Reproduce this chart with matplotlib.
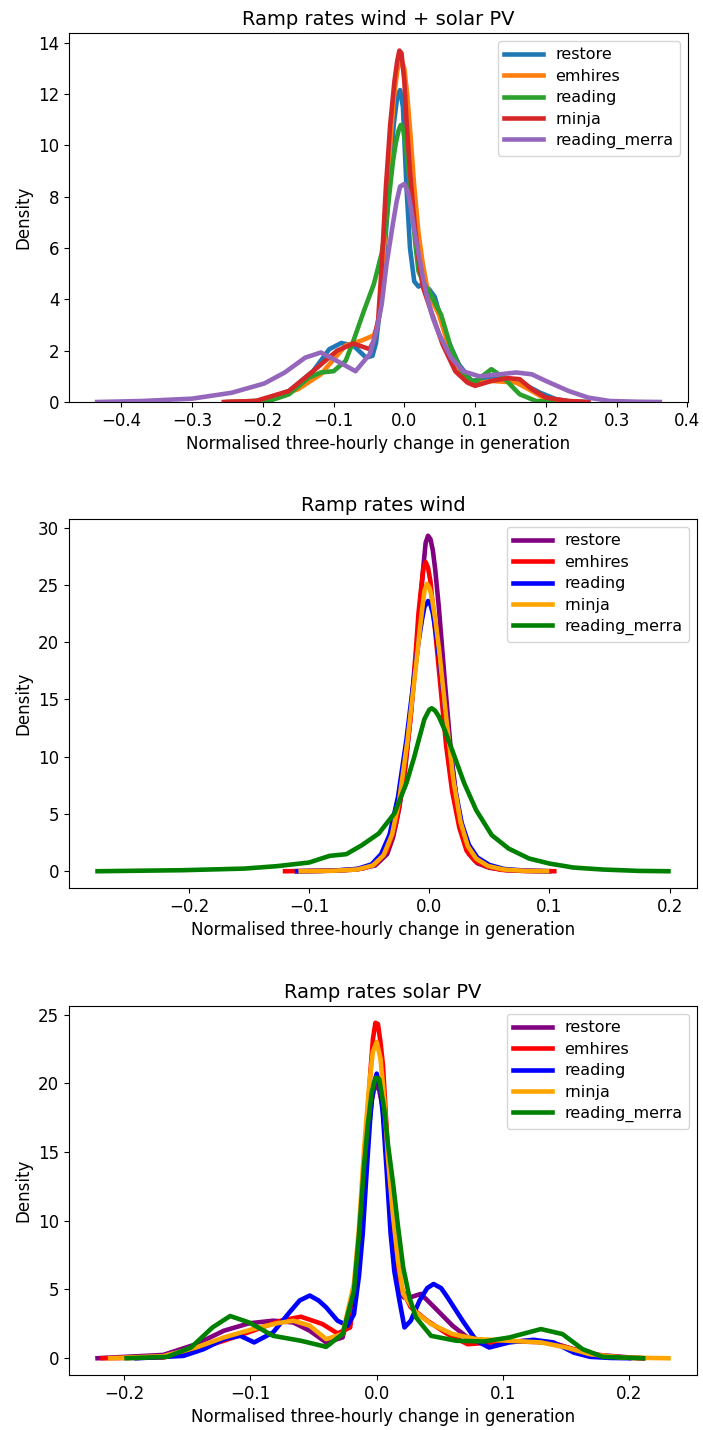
import matplotlib
matplotlib.use("Agg")
import matplotlib.pyplot as plt

# ---- panel 1: wind + solar PV ----
names = ["restore", "emhires", "reading", "rninja", "reading_merra"]

p1_restore_x = [-0.25, -0.2, -0.163, -0.129, -0.106, -0.089, -0.072, -0.054, -0.045, -0.04, -0.035, -0.03, -0.025,
                -0.02, -0.015, -0.01, -0.006, -0.002, 0.003, 0.008, 0.014, 0.02, 0.026, 0.035, 0.043, 0.05,
                0.06, 0.077, 0.095, 0.112, 0.146, 0.169, 0.192, 0.215, 0.238, 0.26]
p1_restore_y = [0.0, 0.05, 0.43, 1.2, 2.06, 2.3, 2.2, 1.73, 1.8, 2.3, 3.5, 5.0, 7.0,
                9.0, 10.8, 11.9, 12.16, 11.5, 8.4, 6.0, 4.7, 4.5, 4.6, 4.4, 4.1, 3.4,
                2.5, 1.47, 0.82, 0.89, 0.89, 0.69, 0.36, 0.1, 0.01, 0.0]

p1_emhires_x = [-0.25, -0.2, -0.15, -0.118, -0.083, -0.06, -0.043, -0.038, -0.034, -0.03, -0.025, -0.02, -0.015,
                -0.01, -0.005, 0.0, 0.004, 0.009, 0.014, 0.02, 0.026, 0.032, 0.04, 0.049, 0.06, 0.068,
                0.077, 0.095, 0.123, 0.158, 0.18, 0.2, 0.226, 0.25]
p1_emhires_y = [0.0, 0.05, 0.5, 1.08, 2.2, 2.4, 2.6, 3.0, 3.6, 5.5, 7.5, 10.0, 11.8,
                12.9, 13.4, 13.0, 12.0, 10.3, 8.4, 6.6, 5.4, 4.5, 3.9, 3.4, 2.4, 1.6,
                1.08, 0.69, 0.82, 0.76, 0.43, 0.1, 0.02, 0.0]

p1_reading_x = [-0.22, -0.19, -0.163, -0.135, -0.118, -0.1, -0.083, -0.072, -0.057, -0.043, -0.032, -0.026,
                -0.02, -0.016, -0.012, -0.008, -0.005, -0.002, 0.002, 0.006, 0.01, 0.015, 0.02, 0.028,
                0.037, 0.052, 0.066, 0.083, 0.1, 0.112, 0.123, 0.14, 0.163, 0.186, 0.21]
p1_reading_y = [0.0, 0.05, 0.3, 0.95, 1.15, 1.2, 1.6, 2.38, 3.56, 4.6, 5.8, 6.9,
                8.4, 9.4, 10.1, 10.6, 10.8, 10.7, 10.0, 9.0, 7.8, 6.3, 5.1, 4.6,
                4.2, 3.4, 2.1, 1.08, 0.76, 1.05, 1.28, 0.95, 0.3, 0.04, 0.0]

p1_rninja_x = [-0.255, -0.21, -0.163, -0.129, -0.095, -0.072, -0.049, -0.043, -0.037, -0.032, -0.026, -0.02,
               -0.014, -0.01, -0.007, -0.004, 0.0, 0.003, 0.008, 0.014, 0.02, 0.026, 0.037, 0.054, 0.072,
               0.089, 0.1, 0.123, 0.146, 0.163, 0.18, 0.2, 0.232, 0.26]
p1_rninja_y = [0.0, 0.04, 0.43, 1.2, 2.0, 2.28, 2.06, 2.4, 3.2, 5.3, 8.4, 10.8,
               12.5, 13.3, 13.7, 13.6, 12.5, 11.0, 9.0, 7.1, 5.6, 4.5, 3.6, 2.25, 1.2,
               0.76, 0.63, 0.82, 0.93, 0.89, 0.5, 0.17, 0.04, 0.0]

p1_merra_x = [-0.434, -0.37, -0.3, -0.244, -0.198, -0.169, -0.14, -0.118, -0.095, -0.069, -0.049, -0.04,
              -0.032, -0.025, -0.017, -0.011, -0.006, 0.0, 0.005, 0.009, 0.014, 0.02, 0.026, 0.032, 0.04,
              0.049, 0.066, 0.083, 0.106, 0.135, 0.158, 0.18, 0.2, 0.232, 0.26, 0.29, 0.33, 0.361]
p1_merra_y = [0.0, 0.04, 0.13, 0.36, 0.72, 1.15, 1.73, 1.93, 1.6, 1.2, 1.86, 2.7,
              3.8, 5.4, 6.8, 7.8, 8.4, 8.5, 8.2, 7.6, 6.7, 5.8, 4.9, 4.1, 3.3,
              2.65, 1.73, 1.2, 1.0, 1.08, 1.15, 1.08, 0.82, 0.43, 0.17, 0.04, 0.01, 0.0]

# ---- panel 2: wind ----
p2_restore_x = [-0.11, -0.08, -0.06, -0.045, -0.035, -0.03, -0.025, -0.02, -0.015, -0.01, -0.007, -0.005,
                -0.003, -0.001, 0.001, 0.003, 0.005, 0.008, 0.013, 0.018, 0.023, 0.028, 0.033, 0.04,
                0.05, 0.065, 0.08, 0.1]
p2_restore_y = [0.0, 0.05, 0.15, 0.5, 1.5, 3.0, 5.5, 9.0, 14.0, 20.0, 24.0, 26.5,
                28.7, 29.3, 29.0, 28.0, 26.3, 23.0, 16.5, 10.5, 6.0, 3.0, 1.5, 0.7,
                0.3, 0.08, 0.02, 0.0]

p2_emhires_x = [-0.12, -0.09, -0.07, -0.055, -0.045, -0.035, -0.028, -0.022, -0.016, -0.011, -0.009, -0.007,
                -0.005, -0.003, -0.001, 0.001, 0.004, 0.009, 0.014, 0.019, 0.025, 0.031, 0.038, 0.048,
                0.06, 0.08, 0.104]
p2_emhires_y = [0.0, 0.03, 0.1, 0.25, 0.6, 1.8, 4.0, 7.5, 13.0, 19.5, 22.5, 24.5,
                26.4, 27.0, 26.5, 25.3, 22.0, 16.5, 11.0, 7.0, 3.8, 1.8, 0.9, 0.4,
                0.12, 0.03, 0.0]

p2_reading_x = [-0.11, -0.08, -0.06, -0.048, -0.04, -0.033, -0.026, -0.019, -0.012, -0.009, -0.006, -0.004,
                -0.001, 0.001, 0.003, 0.006, 0.009, 0.015, 0.021, 0.027, 0.033, 0.04, 0.05, 0.062,
                0.08, 0.098]
p2_reading_y = [0.0, 0.05, 0.2, 0.6, 1.5, 3.2, 6.5, 11.5, 17.5, 20.0, 22.0, 23.1,
                23.6, 23.3, 22.5, 20.5, 18.0, 12.5, 7.5, 4.2, 2.3, 1.2, 0.55, 0.2,
                0.05, 0.0]

p2_rninja_x = [-0.107, -0.08, -0.06, -0.047, -0.038, -0.031, -0.025, -0.018, -0.011, -0.008, -0.006, -0.004,
               -0.002, 0.0, 0.002, 0.005, 0.008, 0.014, 0.02, 0.026, 0.032, 0.039, 0.049, 0.062,
               0.08, 0.098]
p2_rninja_y = [0.0, 0.04, 0.15, 0.5, 1.4, 3.2, 6.2, 11.5, 18.0, 21.0, 22.8, 24.5,
               25.1, 24.8, 24.0, 22.0, 19.5, 13.5, 8.0, 4.3, 2.2, 1.1, 0.45, 0.15,
               0.03, 0.0]

p2_merra_x = [-0.276, -0.205, -0.154, -0.127, -0.1, -0.083, -0.069, -0.056, -0.042, -0.029, -0.019, -0.013,
              -0.008, -0.004, 0.0, 0.002, 0.005, 0.008, 0.013, 0.019, 0.029, 0.039, 0.052, 0.066,
              0.083, 0.1, 0.12, 0.144, 0.174, 0.199]
p2_merra_y = [0.0, 0.09, 0.23, 0.44, 0.76, 1.34, 1.49, 2.28, 3.3, 5.05, 7.7, 9.8,
              11.76, 13.3, 14.1, 14.24, 14.0, 13.5, 12.3, 10.6, 7.7, 5.34, 3.15, 1.98,
              1.11, 0.67, 0.32, 0.15, 0.03, 0.0]

# ---- panel 3: solar PV ----
p3_restore_x = [-0.221, -0.169, -0.143, -0.121, -0.101, -0.082, -0.066, -0.053, -0.04, -0.027, -0.018, -0.014,
                -0.01, -0.007, -0.004, -0.002, 0.0, 0.002, 0.005, 0.008, 0.011, 0.014, 0.018, 0.022,
                0.027, 0.035, 0.047, 0.06, 0.072, 0.089, 0.111, 0.137, 0.156, 0.176, 0.201, 0.211]
p3_restore_y = [0.0, 0.24, 1.02, 2.0, 2.54, 2.73, 2.6, 2.0, 1.15, 1.51, 4.68, 8.5,
                12.7, 16.0, 18.7, 19.6, 19.8, 19.5, 18.1, 14.5, 10.3, 7.2, 4.68, 4.4,
                4.44, 4.68, 3.58, 2.37, 1.51, 1.22, 1.22, 1.15, 0.66, 0.24, 0.05, 0.0]

p3_emhires_x = [-0.217, -0.169, -0.143, -0.121, -0.098, -0.076, -0.06, -0.043, -0.031, -0.021, -0.015, -0.011,
                -0.008, -0.005, -0.003, -0.001, 0.001, 0.003, 0.005, 0.008, 0.011, 0.014, 0.018, 0.027,
                0.04, 0.056, 0.072, 0.092, 0.121, 0.143, 0.159, 0.179, 0.201, 0.21]
p3_emhires_y = [0.0, 0.05, 0.66, 1.27, 2.0, 2.73, 3.02, 2.49, 1.8, 2.24, 6.6, 11.5,
                16.4, 20.8, 23.2, 24.4, 24.3, 23.0, 21.3, 16.5, 11.5, 8.0, 5.4, 3.7,
                2.73, 1.76, 1.02, 1.15, 1.27, 1.02, 0.54, 0.17, 0.02, 0.0]

p3_reading_x = [-0.19, -0.153, -0.137, -0.121, -0.108, -0.097, -0.082, -0.069, -0.061, -0.053, -0.046, -0.04,
                -0.031, -0.023, -0.018, -0.014, -0.011, -0.008, -0.005, -0.003, 0.0, 0.003, 0.005, 0.008,
                0.011, 0.014, 0.018, 0.022, 0.027, 0.034, 0.04, 0.045, 0.051, 0.056, 0.068, 0.079, 0.089,
                0.105, 0.124, 0.14, 0.156, 0.169, 0.185, 0.2]
p3_reading_y = [0.0, 0.17, 0.66, 1.39, 1.63, 1.15, 1.88, 3.34, 4.2, 4.56, 4.2, 3.7,
                2.73, 2.37, 3.2, 6.0, 9.1, 13.5, 17.6, 19.6, 20.7, 19.6, 17.6, 13.5,
                9.1, 6.3, 4.2, 2.24, 2.73, 4.2, 5.1, 5.4, 5.1, 4.44, 2.73, 1.27, 0.78,
                1.15, 1.34, 1.15, 0.41, 0.1, 0.02, 0.0]

p3_rninja_x = [-0.211, -0.169, -0.143, -0.121, -0.098, -0.079, -0.066, -0.053, -0.04, -0.027, -0.018, -0.014,
               -0.01, -0.006, -0.003, 0.0, 0.003, 0.006, 0.009, 0.013, 0.017, 0.021, 0.031, 0.043,
               0.06, 0.079, 0.105, 0.13, 0.15, 0.169, 0.195, 0.231]
p3_rninja_y = [0.0, 0.15, 0.78, 1.51, 2.12, 2.54, 2.73, 2.37, 1.39, 1.76, 5.4, 9.5,
               15.2, 19.8, 22.3, 23.0, 21.8, 18.8, 14.5, 10.3, 7.0, 4.68, 3.34, 2.49,
               1.76, 1.39, 1.27, 1.15, 0.78, 0.29, 0.05, 0.0]

p3_merra_x = [-0.198, -0.166, -0.147, -0.13, -0.116, -0.101, -0.082, -0.06, -0.04, -0.027, -0.018, -0.014,
              -0.01, -0.007, -0.004, -0.001, 0.002, 0.006, 0.009, 0.013, 0.017, 0.021, 0.026, 0.031,
              0.043, 0.063, 0.085, 0.105, 0.13, 0.147, 0.163, 0.179, 0.211]
p3_merra_y = [0.0, 0.1, 0.78, 2.24, 3.07, 2.6, 1.63, 1.27, 0.83, 1.76, 4.9, 9.0,
              14.0, 17.0, 19.3, 20.4, 20.3, 18.1, 15.5, 12.7, 9.5, 6.6, 4.4, 2.98,
              1.63, 1.27, 1.22, 1.51, 2.12, 1.76, 0.66, 0.1, 0.0]

colors1 = ["tab:blue", "tab:orange", "tab:green", "tab:red", "tab:purple"]
colors2 = ["purple", "red", "blue", "orange", "green"]

panels = [
    ("Ramp rates wind + solar PV", colors1,
     [(p1_restore_x, p1_restore_y), (p1_emhires_x, p1_emhires_y), (p1_reading_x, p1_reading_y),
      (p1_rninja_x, p1_rninja_y), (p1_merra_x, p1_merra_y)]),
    ("Ramp rates wind", colors2,
     [(p2_restore_x, p2_restore_y), (p2_emhires_x, p2_emhires_y), (p2_reading_x, p2_reading_y),
      (p2_rninja_x, p2_rninja_y), (p2_merra_x, p2_merra_y)]),
    ("Ramp rates solar PV", colors2,
     [(p3_restore_x, p3_restore_y), (p3_emhires_x, p3_emhires_y), (p3_reading_x, p3_reading_y),
      (p3_rninja_x, p3_rninja_y), (p3_merra_x, p3_merra_y)]),
]

W, H = 703, 1430
# axes boxes in pixels: left, top, right, bottom
boxes = [(69, 33, 688, 402), (69, 519, 697, 888), (69, 1006, 697, 1375)]

plt.rcParams['font.size'] = 12
fig = plt.figure(figsize=(W / 100, H / 100), dpi=100)

for i, (title, cols, series) in enumerate(panels):
    l, t, r, b = boxes[i]
    ax = fig.add_axes([l / W, (H - b) / H, (r - l) / W, (b - t) / H])
    for name, col, (xs, ys) in zip(names, cols, series):
        ax.plot(xs, ys, color=col, lw=3.3, label=name)
    if i == 0:
        ax.set_ylim(bottom=0)
    ax.set_title(title, fontsize=14)
    ax.set_xlabel("Normalised three-hourly change in generation")
    ax.set_ylabel("Density")
    ax.legend(loc="upper right", fontsize=11.5, labelspacing=0.4, handlelength=2.4)

fig.savefig("out.png", dpi=100)
